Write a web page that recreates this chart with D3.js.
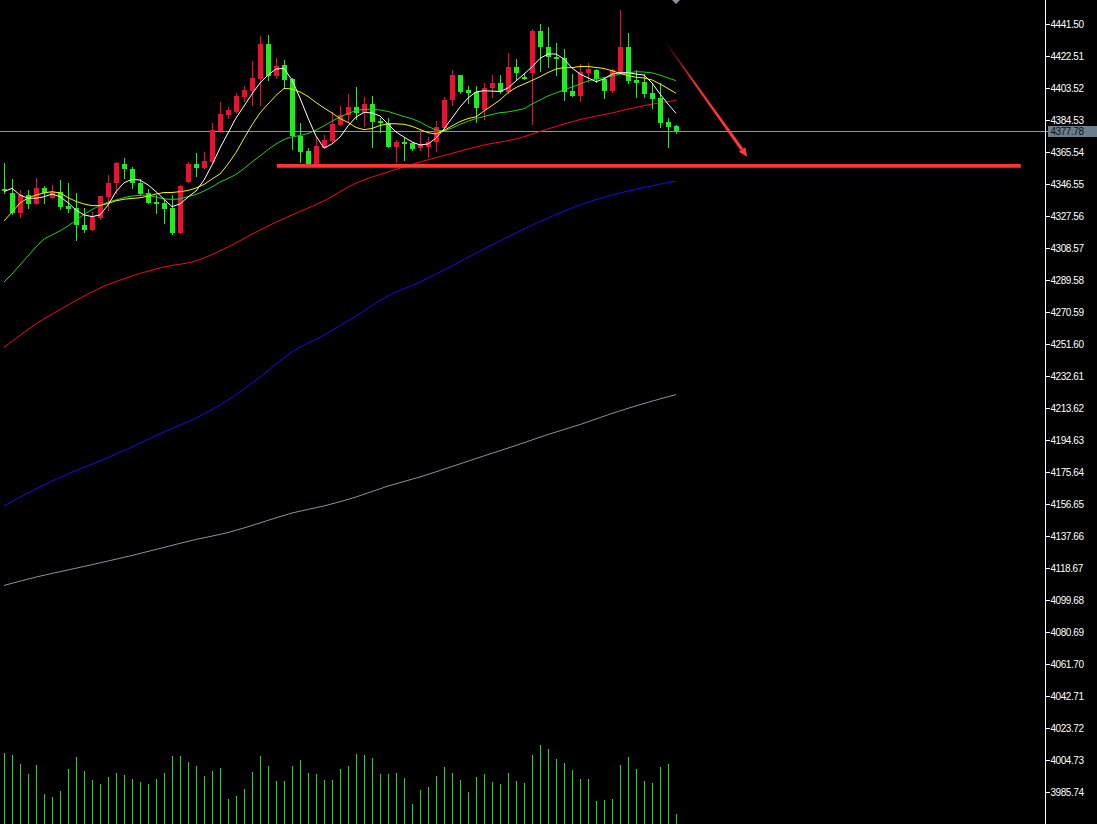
<!DOCTYPE html>
<html><head><meta charset="utf-8">
<script src="https://cdn.jsdelivr.net/npm/d3@7"></script>
<style>html,body{margin:0;padding:0;background:#000;overflow:hidden}</style>
</head><body>
<svg id="chart" width="1097" height="824"></svg>
<script>
// ---- data ----
const opens = [4343.6,4341.0,4329.2,4340.0,4334.7,4344.4,4338.4,4342.0,4333.5,4332.1,
4322.2,4319.3,4326.2,4339.0,4347.0,4358.2,4355.5,4347.0,4341.0,4336.0,
4335.1,4332.1,4317.7,4347.9,4358.2,4356.3,4359.8,4378.0,4387.5,4389.1,
4398.4,4401.9,4408.9,4429.6,4410.6,4417.2,4408.9,4375.2,4366.1,4358.2,
4368.1,4372.1,4381.6,4387.5,4392.1,4388.9,4394.0,4384.1,4382.6,4368.7,
4371.7,4370.7,4368.1,4368.7,4371.7,4379.6,4396.4,4411.2,4402.3,4401.3,
4390.5,4403.3,4406.7,4401.3,4416.2,4410.3,4412.6,4437.5,4428.0,4422.1,
4421.1,4401.9,4398.8,4412.6,4414.2,4408.7,4401.9,4413.2,4428.0,4408.3,
4407.3,4400.4,4397.4,4383.3,4381.0];
const highs = [4359.0,4349.3,4343.0,4343.0,4349.9,4345.3,4346.0,4348.9,4347.0,4341.0,
4332.1,4330.1,4339.7,4351.9,4359.8,4361.8,4356.5,4349.3,4343.4,4340.0,
4337.1,4340.0,4345.7,4359.8,4364.8,4365.4,4382.6,4395.0,4392.4,4400.4,
4404.9,4419.5,4434.4,4435.0,4421.1,4420.1,4409.2,4382.6,4368.1,4375.0,
4375.6,4389.1,4392.8,4399.8,4403.9,4398.0,4398.8,4385.5,4385.5,4372.7,
4374.6,4371.0,4378.6,4374.6,4383.9,4398.0,4414.2,4411.5,4404.7,4404.7,
4406.7,4411.2,4411.2,4424.5,4420.5,4411.8,4438.4,4441.5,4439.5,4430.4,
4426.5,4411.8,4417.8,4418.5,4414.5,4410.2,4414.5,4449.8,4436.0,4414.2,
4411.8,4406.3,4406.3,4385.7,4381.6];
const lows = [4341.2,4328.8,4327.2,4332.1,4334.5,4335.5,4338.3,4331.5,4330.1,4313.3,
4318.2,4319.0,4325.6,4331.1,4341.0,4349.9,4344.0,4340.0,4335.1,4329.2,
4323.6,4316.9,4317.2,4347.7,4351.3,4356.0,4359.6,4377.7,4385.5,4388.5,
4395.8,4393.4,4393.4,4408.3,4409.3,4403.7,4367.3,4359.4,4357.9,4357.8,
4367.7,4371.7,4381.3,4383.5,4384.9,4381.0,4368.7,4377.6,4368.5,4359.8,
4360.8,4366.7,4366.7,4362.4,4366.3,4379.3,4393.4,4400.7,4394.4,4383.5,
4384.9,4398.4,4400.7,4400.4,4408.3,4408.9,4382.2,4413.8,4416.2,4411.2,
4396.4,4398.8,4396.0,4407.3,4407.3,4397.4,4401.3,4413.0,4406.3,4398.4,
4398.4,4391.5,4380.2,4368.7,4377.0];
const closes = [4342.4,4329.2,4340.0,4334.7,4344.0,4341.0,4342.0,4333.1,4331.7,4322.2,
4319.3,4326.8,4339.4,4347.3,4358.8,4355.3,4347.0,4340.6,4335.5,4335.1,
4331.7,4317.7,4345.4,4358.2,4356.3,4360.2,4378.6,4387.9,4390.5,4398.8,
4402.3,4409.6,4429.6,4410.6,4416.6,4408.3,4375.2,4365.7,4358.2,4369.1,
4372.7,4382.2,4387.5,4392.1,4388.5,4394.0,4383.5,4382.9,4368.7,4371.7,
4370.3,4367.3,4370.1,4371.7,4380.6,4396.4,4411.2,4401.3,4400.7,4391.5,
4403.3,4406.7,4401.3,4416.2,4412.6,4409.7,4437.5,4427.7,4422.1,4420.7,
4401.3,4398.9,4413.2,4414.6,4408.7,4401.9,4414.2,4428.0,4407.9,4406.7,
4400.0,4396.8,4382.9,4380.6,4377.78];
const volumes = [7070,6900,6000,5000,5900,3000,2700,3300,5500,6700,
5300,4400,4000,4700,5100,4900,4500,4200,4000,4500,
5100,6800,6800,6200,5800,4800,5300,5600,2500,2800,
3500,5200,6800,5800,4300,4300,5800,6400,5100,5000,
4400,4400,5500,5800,7000,6900,6600,5000,5000,5100,
4600,2000,3400,3700,4800,5700,5100,4400,3200,4700,
5000,4200,4000,5100,4300,4100,6900,7900,7500,6500,
6100,5400,4500,4500,2300,2400,2500,5900,6700,5500,
4300,4100,5700,6000,1000];
// moving averages, one value per bar
const ma5 = [4342.0,4344.0,4340.0,4338.1,4338.1,4339.0,4340.6,4339.0,4335.5,4331.1,
4328.2,4327.2,4328.2,4334.1,4342.0,4347.3,4349.3,4348.9,4346.0,4342.0,
4337.5,4333.1,4334.7,4338.8,4342.4,4348.9,4357.8,4367.9,4376.8,4385.7,
4392.8,4400.0,4406.5,4411.2,4414.8,4415.1,4408.3,4397.6,4385.7,4375.0,
4367.9,4370.3,4374.4,4381.0,4386.3,4389.0,4388.7,4386.9,4382.2,4377.4,
4374.4,4371.5,4369.7,4370.3,4373.8,4379.2,4385.7,4392.2,4397.6,4401.2,
4401.9,4401.7,4401.4,4403.5,4407.7,4411.8,4416.0,4421.1,4423.7,4423.7,
4420.7,4415.4,4411.8,4409.5,4407.3,4408.9,4411.8,4412.6,4412.6,4411.8,
4411.2,4406.5,4400.0,4394.0,4388.5];
const ma10 = [4324.6,4329.9,4335.3,4338.2,4340.0,4341.2,4342.0,4341.2,4338.5,4336.2,
4334.7,4333.7,4333.8,4335.0,4336.6,4337.5,4338.0,4338.4,4339.3,4340.6,
4341.5,4341.5,4342.0,4342.7,4344.2,4346.3,4349.5,4352.5,4358.4,4365.2,
4373.6,4381.6,4388.7,4394.0,4399.1,4403.3,4402.9,4401.2,4398.5,4394.9,
4391.7,4388.7,4385.4,4383.1,4380.1,4378.8,4379.5,4381.3,4382.3,4382.3,
4382.0,4380.8,4378.9,4377.0,4376.2,4378.3,4381.0,4383.6,4385.4,4386.4,
4389.9,4393.1,4396.4,4400.8,4403.8,4405.9,4408.0,4410.2,4412.7,4414.8,
4415.6,4415.6,4416.3,4416.3,4415.7,4415.1,4413.8,4412.2,4410.9,4409.9,
4409.5,4408.3,4405.9,4403.2,4400.4];
const ma20 = [4288.4,4293.1,4298.5,4303.8,4309.2,4313.9,4316.3,4318.7,4321.6,4324.9,
4328.5,4331.4,4333.8,4335.9,4337.1,4338.5,4339.4,4339.8,4340.0,4338.8,
4337.7,4337.4,4337.7,4339.1,4340.3,4342.4,4344.8,4347.7,4349.8,4352.2,
4355.7,4359.6,4363.2,4367.0,4370.3,4373.0,4374.5,4375.3,4376.5,4378.6,
4381.0,4383.9,4386.3,4388.4,4390.2,4390.9,4390.9,4390.5,4389.6,4388.1,
4386.6,4385.3,4383.3,4380.7,4378.6,4378.0,4379.8,4381.9,4383.8,4385.4,
4386.6,4387.8,4388.9,4389.3,4390.2,4391.2,4394.0,4396.4,4398.8,4400.6,
4402.3,4404.1,4405.9,4407.7,4408.9,4409.6,4410.6,4411.8,4412.4,4413.2,
4413.0,4412.5,4411.2,4409.5,4407.9];
// long moving averages, one value every maStep bars
const maStep = 4;
const ma60 = [4249.5,4263.5,4274.7,4284.8,4291.9,4297.3,4300.9,4309.2,4319.3,4328.2,
4336.5,4347.1,4353.7,4359.6,4364.7,4369.7,4373.3,4379.2,4384.8,4388.7,4393.1,4396.1];
const ma120 = [4155.5,4165.6,4174.5,4182.2,4190.5,4199.4,4207.7,4218.4,4232.0,4246.9,
4256.9,4268.2,4280.1,4288.4,4297.9,4308.0,4317.5,4326.4,4334.1,4340.0,4344.5,4348.3];
const ma240 = [4108.3,4113.3,4117.5,4121.7,4126.1,4130.9,4135.6,4139.7,4145.4,4151.3,
4155.5,4160.8,4167.3,4172.7,4178.9,4185.2,4191.4,4197.9,4203.8,4210.4,4216.3,4221.6];
const priceTicks = ["4441.50","4422.51","4403.52","4384.53","4365.54","4346.55","4327.56","4308.57",
"4289.58","4270.59","4251.60","4232.61","4213.62","4194.63","4175.64","4156.65","4137.66",
"4118.67","4099.68","4080.69","4061.70","4042.71","4023.72","4004.73","3985.74"];
const lastPrice = 4377.78;
const supportPrice = 4357.3;
const supportFrom = 34.1;
const supportTo = 127.1;
const arrowStart = [82.8, 4430.0];   // [bar index, price]
const arrowEnd = [92.9, 4362.7];

// ---- drawing ----
const W = 1097, H = 824, axisX = 1045;
const svg = d3.select("#chart");
svg.append("rect").attr("width", W).attr("height", H).attr("fill", "#000");

const x = d3.scaleLinear().domain([0, 130]).range([4, 1044]);
const y = d3.scaleLinear().domain([3985.74, 4441.50]).range([792, 24]);
const vy = d3.scaleLinear().domain([0, 8400]).range([824, 740]);

const bars = opens.map((o, i) => ({i, o, h: highs[i], l: lows[i], c: closes[i], v: volumes[i]}));

// volume
svg.append("g").selectAll("rect").data(bars).join("rect")
  .attr("x", d => Math.round(x(d.i))).attr("width", 1)
  .attr("y", d => Math.round(vy(d.v))).attr("height", d => H - Math.round(vy(d.v)))
  .attr("fill", "#2ed12e").attr("shape-rendering", "crispEdges");

// long MAs
function longLine(arr, color) {
  const line = d3.line().x((d, k) => x(k * maStep)).y(d => y(d)).curve(d3.curveMonotoneX);
  svg.append("path").datum(arr).attr("d", line).attr("fill", "none")
    .attr("stroke", color).attr("stroke-width", 1);
}
longLine(ma240, "#8593a3");
longLine(ma120, "#1010ee");

// current price line
const ly = Math.round(y(lastPrice)) + 0.5;
svg.append("line").attr("x1", 0).attr("x2", axisX).attr("y1", ly).attr("y2", ly)
  .attr("stroke", "#8c96a0").attr("stroke-width", 1).attr("shape-rendering", "crispEdges");

longLine(ma60, "#f01010");

// candles
const UP = "#f0102e", DOWN = "#1cf01c";
const cg = svg.append("g").attr("shape-rendering", "crispEdges");
cg.selectAll("rect.w").data(bars).join("rect").attr("class", "w")
  .attr("x", d => Math.round(x(d.i))).attr("width", 1)
  .attr("y", d => Math.round(y(d.h)))
  .attr("height", d => Math.max(1, Math.round(y(d.l)) - Math.round(y(d.h)) + 1))
  .attr("fill", d => d.c >= d.o ? UP : DOWN);
cg.selectAll("rect.b").data(bars).join("rect").attr("class", "b")
  .attr("x", d => Math.round(x(d.i)) - 2).attr("width", 5)
  .attr("y", d => Math.round(y(Math.max(d.o, d.c))))
  .attr("height", d => Math.max(2, Math.round(y(Math.min(d.o, d.c))) - Math.round(y(Math.max(d.o, d.c)))))
  .attr("fill", d => d.c >= d.o ? UP : DOWN);

// short MAs
function shortLine(arr, color) {
  const line = d3.line().x((d, i) => x(i)).y(d => y(d));
  svg.append("path").datum(arr).attr("d", line).attr("fill", "none")
    .attr("stroke", color).attr("stroke-width", 1);
}
shortLine(ma20, "#22d022");
shortLine(ma10, "#f5f500");
shortLine(ma5, "#ffffff");

// support line
svg.append("line").attr("x1", x(supportFrom)).attr("x2", x(supportTo))
  .attr("y1", y(supportPrice)).attr("y2", y(supportPrice))
  .attr("stroke", "#ff3535").attr("stroke-width", 3.6);

// arrow
const ax0 = x(arrowStart[0]), ay0 = y(arrowStart[1]);
const ax1 = x(arrowEnd[0]), ay1 = y(arrowEnd[1]);
const defs = svg.append("defs");
const grad = defs.append("linearGradient").attr("id", "ag").attr("gradientUnits", "userSpaceOnUse")
  .attr("x1", ax0).attr("y1", ay0).attr("x2", ax1).attr("y2", ay1);
grad.append("stop").attr("offset", "0").attr("stop-color", "#300000");
grad.append("stop").attr("offset", "0.35").attr("stop-color", "#ff2e2e");
grad.append("stop").attr("offset", "1").attr("stop-color", "#ff3a3a");
const dx = ax1 - ax0, dy = ay1 - ay0, len = Math.hypot(dx, dy);
const ux = dx / len, uy = dy / len, nx = -uy, ny = ux;
const headL = 9, headW = 4;
const bx = ax1 - ux * headL, by = ay1 - uy * headL;
const shaft = [[ax0 + nx * 0.5, ay0 + ny * 0.5], [bx + nx * 1.6, by + ny * 1.6],
  [bx - nx * 1.6, by - ny * 1.6], [ax0 - nx * 0.5, ay0 - ny * 0.5]];
svg.append("polygon").attr("points", shaft.map(p => p.join(",")).join(" ")).attr("fill", "url(#ag)");
const head = [[ax1, ay1], [bx + nx * headW, by + ny * headW], [bx - nx * headW, by - ny * headW]];
svg.append("polygon").attr("points", head.map(p => p.join(",")).join(" ")).attr("fill", "#ff3a3a");

// marker triangle at the last bar
const lx = x(bars.length - 1);
svg.append("polygon").attr("points", `${lx - 4},0 ${lx + 4},0 ${lx},4`).attr("fill", "#8a96a6");

// right price axis
svg.append("rect").attr("x", axisX + 1).attr("y", 0).attr("width", W - axisX - 1).attr("height", H).attr("fill", "#000");
svg.append("line").attr("x1", axisX + 0.5).attr("x2", axisX + 0.5).attr("y1", 0).attr("y2", H)
  .attr("stroke", "#ffffff").attr("shape-rendering", "crispEdges");
const tg = svg.append("g");
priceTicks.forEach(t => {
  const ty = Math.round(y(+t)) + 0.5;
  tg.append("line").attr("x1", axisX + 1).attr("x2", axisX + 5).attr("y1", ty).attr("y2", ty)
    .attr("stroke", "#fff").attr("shape-rendering", "crispEdges");
  tg.append("text").attr("x", axisX + 5.5).attr("y", ty).attr("dy", "0.35em")
    .attr("fill", "#fff").attr("font-family", "Liberation Sans, Arial, sans-serif")
    .attr("font-size", 10).attr("letter-spacing", "-0.45px").text(t);
});
// current price tag
svg.append("line").attr("x1", axisX + 1).attr("x2", axisX + 3).attr("y1", ly).attr("y2", ly)
  .attr("stroke", "#8c96a0").attr("shape-rendering", "crispEdges");
svg.append("rect").attr("x", axisX + 3).attr("y", ly - 5.5).attr("width", W - axisX - 3).attr("height", 11)
  .attr("fill", "#6c7e90");
svg.append("text").attr("x", axisX + 5.5).attr("y", ly).attr("dy", "0.35em")
  .attr("fill", "#111").attr("font-family", "Liberation Sans, Arial, sans-serif")
  .attr("font-size", 10).attr("letter-spacing", "-0.45px").text(lastPrice.toFixed(2));
</script>
</body></html>
